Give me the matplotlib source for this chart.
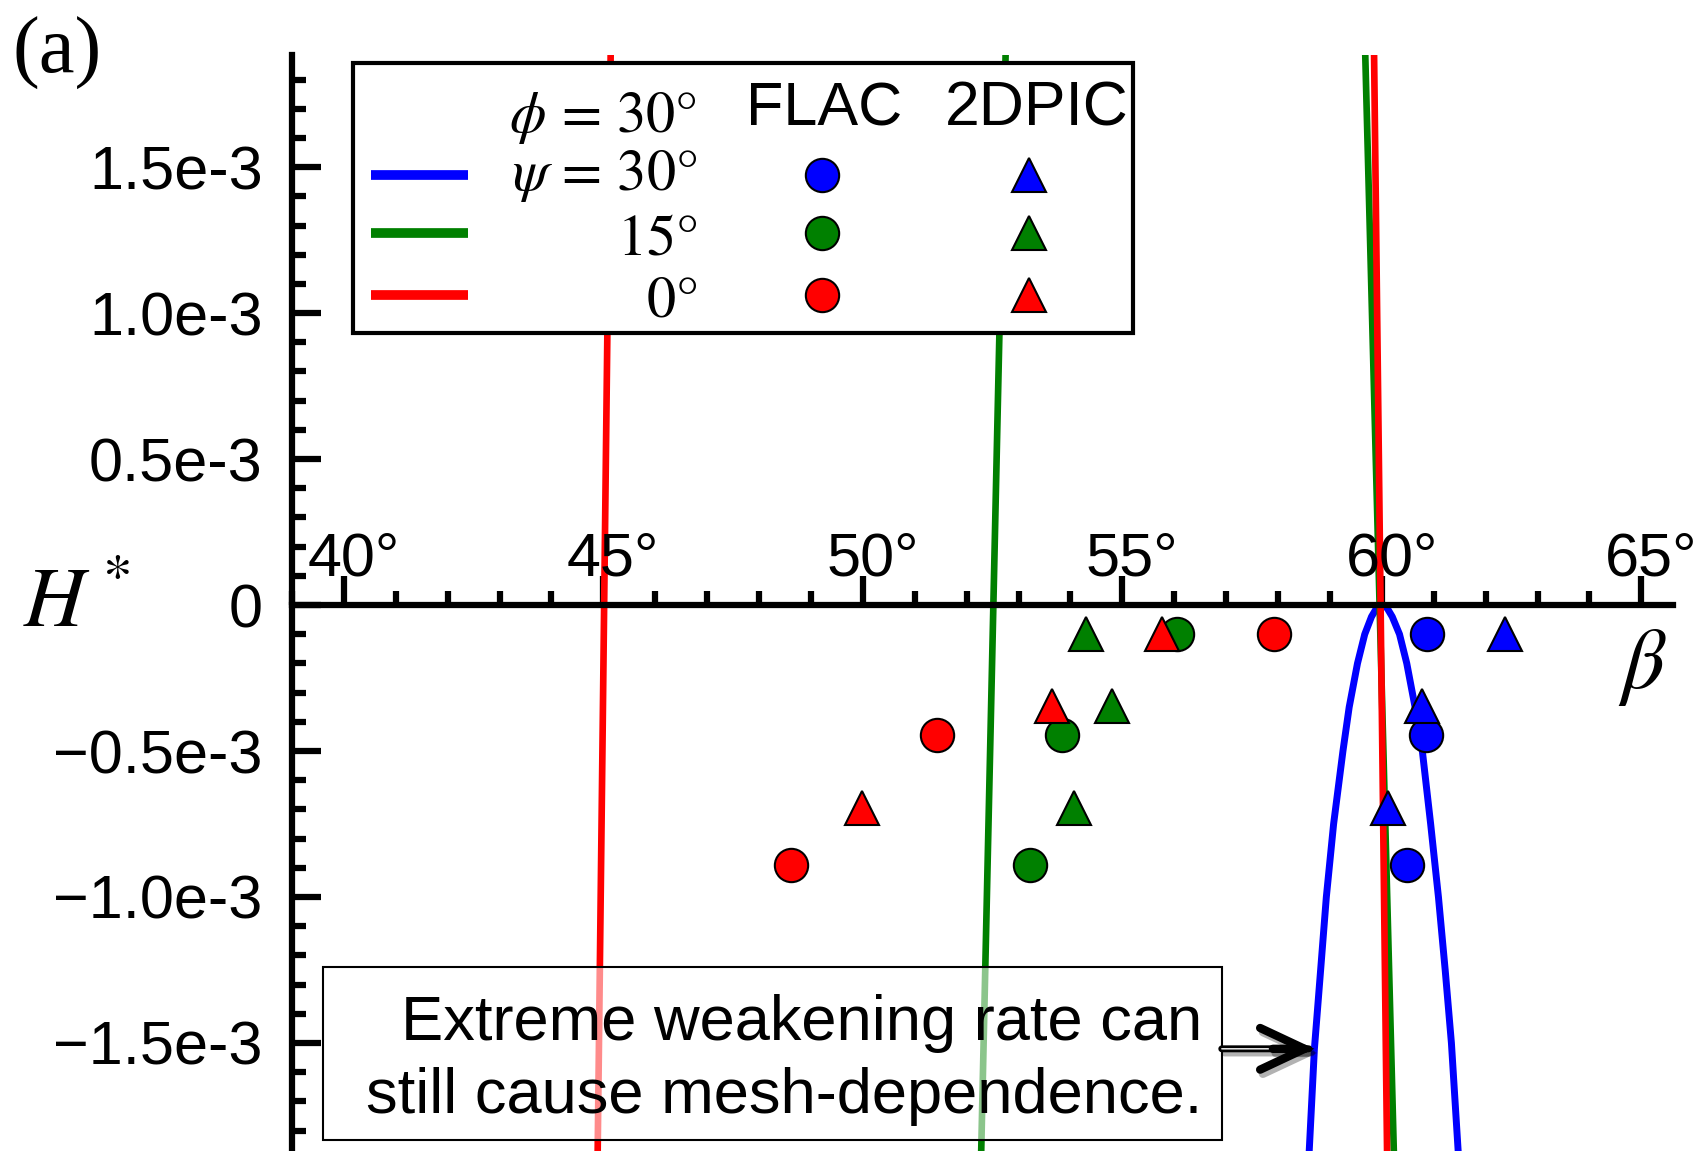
import matplotlib
matplotlib.use("Agg")
import matplotlib.pyplot as plt
from matplotlib.ticker import FixedLocator, MultipleLocator
from matplotlib.patches import Rectangle
import matplotlib.patheffects as pe

plt.rcParams["font.family"] = ["Liberation Sans", "DejaVu Sans"]
plt.rcParams["mathtext.fontset"] = "stix"

# ---------------------------------------------------------------- data
BLUE, GREEN, RED = "#0000ff", "#008000", "#ff0000"
psi_colors = [BLUE, GREEN, RED]            # psi = 30, 15, 0 degrees

# FLAC results: shear-band angle beta (deg) vs softening modulus H*
flac_h = [-0.10e-3, -0.445e-3, -0.89e-3]
flac_beta_psi30 = [60.87, 60.85, 60.48]
flac_beta_psi15 = [56.06, 53.83, 53.22]
flac_beta_psi0 = [57.92, 51.43, 48.61]

# 2DPIC results
pic_h = [-0.10e-3, -0.345e-3, -0.695e-3]
pic_beta_psi30 = [62.38, 60.77, 60.11]
pic_beta_psi15 = [54.30, 54.80, 54.07]
pic_beta_psi0 = [55.76, 53.64, 49.98]

# theoretical bifurcation curves
line_h = [1.884e-3, -1.870e-3]
theory_psi0_a = [45.14, 44.89]
theory_psi0_b = [59.85, 60.10]
theory_psi15_a = [52.75, 52.28]
theory_psi15_b = [59.68, 60.23]

blue_beta = [58.60, 58.70, 58.82, 58.93, 59.07, 59.25, 59.37, 59.53, 59.67,
             59.80, 59.90, 60.00, 60.10, 60.20, 60.34, 60.48, 60.64, 60.78,
             60.94, 61.09, 61.22, 61.34, 61.47]
blue_h = [-1.87e-3, -1.52e-3, -1.25e-3, -1.00e-3, -0.75e-3, -0.50e-3, -0.35e-3,
          -0.20e-3, -0.10e-3, -0.04e-3, -0.01e-3, 0.0, -0.01e-3, -0.04e-3,
          -0.10e-3, -0.20e-3, -0.35e-3, -0.50e-3, -0.75e-3, -1.00e-3,
          -1.25e-3, -1.50e-3, -1.87e-3]

x_ticks = [40, 45, 50, 55, 60, 65]
x_tick_labels = ["40°", "45°", "50°", "55°", "60°", "65°"]
y_ticks = [1.5e-3, 1.0e-3, 0.5e-3, 0.0, -0.5e-3, -1.0e-3, -1.5e-3]
y_tick_labels = ["1.5e-3", "1.0e-3", "0.5e-3", "0", "\u22120.5e-3",
                 "\u22121.0e-3", "\u22121.5e-3"]

legend_row_labels = [r"$\psi\,=\,30°$", r"$15°$", r"$0°$"]

# ---------------------------------------------------------------- figure
fig = plt.figure(figsize=(17.03, 11.51), dpi=100)
ax = fig.add_axes([292 / 1703, 0.0, 1380.5 / 1703, 1096 / 1151])
ax.set_xlim(39, 65.6)
ax.set_ylim(-1.870e-3, 1.884e-3)

for s in ("top", "right"):
    ax.spines[s].set_visible(False)
ax.spines["bottom"].set_position(("data", 0))
for s in ("left", "bottom"):
    ax.spines[s].set_linewidth(4.5)

ax.xaxis.set_major_locator(FixedLocator(x_ticks))
ax.xaxis.set_minor_locator(MultipleLocator(1))
ax.yaxis.set_major_locator(FixedLocator(y_ticks))
ax.yaxis.set_minor_locator(MultipleLocator(0.1e-3))
ax.tick_params(which="both", direction="in", width=4.5, color="black")
ax.tick_params(which="major", length=21)
ax.tick_params(which="minor", length=10)
ax.tick_params(axis="x", labelbottom=False)
ax.tick_params(axis="y", pad=21, labelsize=44)
ax.set_yticklabels(y_tick_labels)

for t, lab in zip(x_ticks, x_tick_labels):
    ax.annotate(lab, xy=(t, 0), xytext=(7, 21.6), textcoords="offset points",
                ha="center", va="baseline", fontsize=44)

# theory curves
ax.plot(blue_beta, blue_h, color=BLUE, lw=5.0, zorder=2)
ax.plot(theory_psi15_a, line_h, color=GREEN, lw=4.8, zorder=2.1)
ax.plot(theory_psi15_b, line_h, color=GREEN, lw=4.8, zorder=2.1)
ax.plot(theory_psi0_a, line_h, color=RED, lw=4.8, zorder=2.2)
ax.plot(theory_psi0_b, line_h, color=RED, lw=4.8, zorder=2.2)

# numerical results
mk = dict(ls="none", mec="black", mew=1.5, zorder=5)
for betas, c in zip([flac_beta_psi30, flac_beta_psi15, flac_beta_psi0], psi_colors):
    ax.plot(betas, flac_h, marker="o", ms=24, mfc=c, **mk)
for betas, c in zip([pic_beta_psi30, pic_beta_psi15, pic_beta_psi0], psi_colors):
    ax.plot(betas, pic_h, marker="^", ms=25, mfc=c, **mk)

# axis labels
ax.text(-0.1949, 0.4790, r"$H^*$", transform=ax.transAxes, fontsize=61,
        ha="left", va="baseline")
ax.text(0.9605, 0.4224, r"$\beta$", transform=ax.transAxes, fontsize=61,
        ha="left", va="baseline")
fig.text(13 / 1703, 1 - 73.3 / 1151, "(a)", family="Liberation Serif",
         fontsize=58, ha="left", va="baseline")

# ---------------------------------------------------------------- legend
lg = Rectangle((0.04404, 0.7466), 0.6092 - 0.04404, 0.9930 - 0.7466,
               transform=ax.transAxes, fc="white", ec="black", lw=3,
               zorder=10, clip_on=False)
ax.add_patch(lg)
ax.text(0.2934, 0.9301, r"$\phi\,=\,30°$", transform=ax.transAxes, fontsize=42,
        ha="right", va="baseline", zorder=11)
ax.text(0.3288, 0.9361, "FLAC", transform=ax.transAxes, fontsize=44,
        ha="left", va="baseline", zorder=11)
hdr = ax.text(0.4727, 0.9361, "2DPIC", transform=ax.transAxes, fontsize=45,
              ha="left", va="baseline", zorder=11)
hdr.set_clip_path(lg)
row_y = [0.8905, 0.8374, 0.7810]
row_base = [0.8768, 0.8184, 0.7612]
for y, yb, c, lab in zip(row_y, row_base, psi_colors, legend_row_labels):
    ax.plot([0.05694, 0.12720], [y, y], transform=ax.transAxes, color=c, lw=7,
            solid_capstyle="butt", zorder=11, clip_on=False)
    ax.text(0.2934, yb, lab, transform=ax.transAxes, fontsize=42,
            ha="right", va="baseline", zorder=11)
    ax.plot([0.3839], [y], transform=ax.transAxes, marker="o", ms=24, mfc=c,
            mec="black", mew=1.5, zorder=11, clip_on=False)
    ax.plot([0.5337], [y], transform=ax.transAxes, marker="^", ms=25, mfc=c,
            mec="black", mew=1.5, zorder=11, clip_on=False)

# ---------------------------------------------------------------- note
ax.add_patch(Rectangle((0.02217, 0.00967), 0.6735 - 0.02217, 0.16825 - 0.00967,
                       transform=ax.transAxes, fc=(1, 1, 1, 0.55), ec="black",
                       lw=1.5, zorder=8))
ax.text(0.6597, 0.10128, "Extreme weakening rate can", transform=ax.transAxes,
        fontsize=45.5, ha="right", va="baseline", zorder=9)
ax.text(0.6597, 0.03467, "still cause mesh-dependence.", transform=ax.transAxes,
        fontsize=45.5, ha="right", va="baseline", zorder=9)

target = (blue_beta[1], blue_h[1])
tail_tr = ax.get_yaxis_transform()
shadow = [pe.SimpleLineShadow(offset=(2, -3), alpha=0.3), pe.Normal()]
ax.annotate("", xy=target, xycoords="data", xytext=(0.6735, target[1]),
            textcoords=tail_tr, zorder=9,
            arrowprops=dict(arrowstyle="-", color="black", lw=5.0,
                            shrinkA=0, shrinkB=4, path_effects=shadow))
ax.annotate("", xy=target, xycoords="data", xytext=(0.6735, target[1]),
            textcoords=tail_tr, zorder=9,
            arrowprops=dict(arrowstyle="-", color="white", lw=1.0,
                            shrinkA=0, shrinkB=14))
ax.annotate("", xy=target, xycoords="data",
            xytext=(target[0] - 0.8, target[1]), textcoords="data", zorder=9,
            arrowprops=dict(arrowstyle="->,head_length=3.2,head_width=1.5",
                            color="black", lw=6.0, shrinkA=0, shrinkB=0,
                            capstyle="round", joinstyle="miter",
                            path_effects=shadow))

fig.savefig("out.png", dpi=100, facecolor="white")
